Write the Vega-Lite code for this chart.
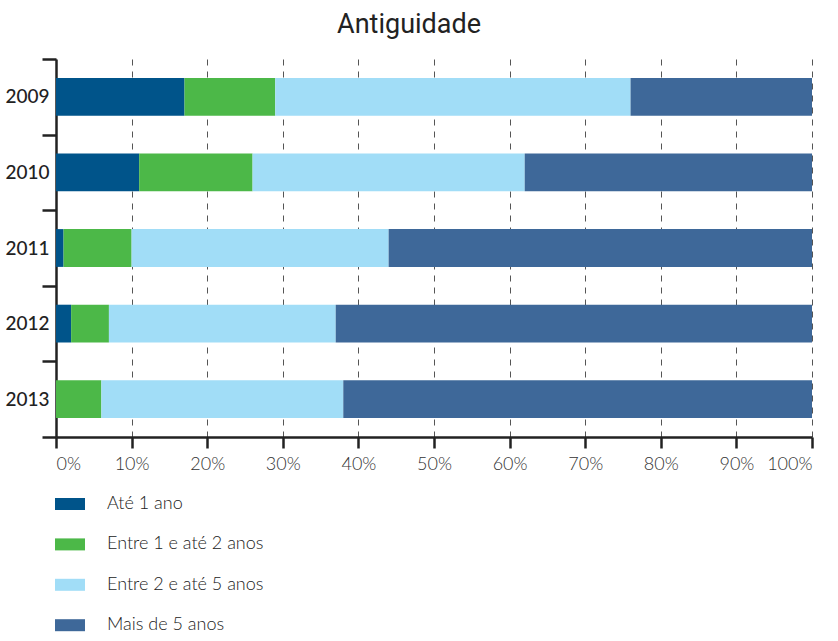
{
  "$schema": "https://vega.github.io/schema/vega-lite/v6.json",
  "autosize": "none",
  "width": 756,
  "height": 378,
  "padding": {"left": 56, "top": 59, "right": 26, "bottom": 204},
  "background": "white",
  "title": {
    "text": "Antiguidade",
    "anchor": "middle",
    "frame": "bounds",
    "font": "Roboto",
    "fontSize": 27,
    "fontWeight": "normal",
    "color": "#222222",
    "offset": 11
  },
  "data": {
    "values": [
      {"ano": "2009", "faixa": "Até 1 ano", "ordem": 1, "valor": 17},
      {"ano": "2009", "faixa": "Entre 1 e até 2 anos", "ordem": 2, "valor": 12},
      {"ano": "2009", "faixa": "Entre 2 e até 5 anos", "ordem": 3, "valor": 47},
      {"ano": "2009", "faixa": "Mais de 5 anos", "ordem": 4, "valor": 24},
      {"ano": "2010", "faixa": "Até 1 ano", "ordem": 1, "valor": 11},
      {"ano": "2010", "faixa": "Entre 1 e até 2 anos", "ordem": 2, "valor": 15},
      {"ano": "2010", "faixa": "Entre 2 e até 5 anos", "ordem": 3, "valor": 36},
      {"ano": "2010", "faixa": "Mais de 5 anos", "ordem": 4, "valor": 38},
      {"ano": "2011", "faixa": "Até 1 ano", "ordem": 1, "valor": 1},
      {"ano": "2011", "faixa": "Entre 1 e até 2 anos", "ordem": 2, "valor": 9},
      {"ano": "2011", "faixa": "Entre 2 e até 5 anos", "ordem": 3, "valor": 34},
      {"ano": "2011", "faixa": "Mais de 5 anos", "ordem": 4, "valor": 56},
      {"ano": "2012", "faixa": "Até 1 ano", "ordem": 1, "valor": 2},
      {"ano": "2012", "faixa": "Entre 1 e até 2 anos", "ordem": 2, "valor": 5},
      {"ano": "2012", "faixa": "Entre 2 e até 5 anos", "ordem": 3, "valor": 30},
      {"ano": "2012", "faixa": "Mais de 5 anos", "ordem": 4, "valor": 63},
      {"ano": "2013", "faixa": "Até 1 ano", "ordem": 1, "valor": 0},
      {"ano": "2013", "faixa": "Entre 1 e até 2 anos", "ordem": 2, "valor": 6},
      {"ano": "2013", "faixa": "Entre 2 e até 5 anos", "ordem": 3, "valor": 32},
      {"ano": "2013", "faixa": "Mais de 5 anos", "ordem": 4, "valor": 62}
    ]
  },
  "mark": {"type": "bar", "height": {"band": 0.5}},
  "encoding": {
    "y": {
      "field": "ano",
      "type": "nominal",
      "sort": ["2009", "2010", "2011", "2012", "2013"],
      "scale": {"paddingInner": 0, "paddingOuter": 0},
      "axis": {
        "title": null,
        "domainColor": "#222222",
        "domainWidth": 2.5,
        "tickBand": "extent",
        "tickColor": "#222222",
        "tickWidth": 2.5,
        "tickSize": 14,
        "labelPadding": -7,
        "labelFont": "Lato",
        "labelFontSize": 19,
        "labelFontWeight": 500,
        "labelColor": "#222222",
        "grid": false
      }
    },
    "x": {
      "field": "valor",
      "type": "quantitative",
      "stack": "normalize",
      "scale": {"domain": [0, 1]},
      "axis": {
        "title": null,
        "values": [0, 0.1, 0.2, 0.3, 0.4, 0.5, 0.6, 0.7, 0.8, 0.9, 1],
        "format": ".0%",
        "domainColor": "#222222",
        "domainWidth": 2.5,
        "tickColor": "#222222",
        "tickWidth": 2.5,
        "tickSize": 11,
        "labelPadding": 7,
        "labelFont": "Lato",
        "labelFontSize": 18,
        "labelFontWeight": 300,
        "labelColor": "#333333",
        "grid": true,
        "gridDash": [6, 6],
        "gridColor": "#555555",
        "gridWidth": 1
      }
    },
    "color": {
      "field": "faixa",
      "type": "nominal",
      "scale": {
        "domain": ["Até 1 ano", "Entre 1 e até 2 anos", "Entre 2 e até 5 anos", "Mais de 5 anos"],
        "range": ["#00548A", "#4CB848", "#A1DDF7", "#3E6899"]
      },
      "legend": {
        "title": null,
        "orient": "none",
        "legendX": 4,
        "legendY": 435,
        "direction": "vertical",
        "symbolType": "M-1.5,-0.6H1.5V0.6H-1.5Z",
        "symbolSize": 400,
        "symbolStrokeWidth": 0,
        "symbolOpacity": 1,
        "labelFont": "Lato",
        "labelFontSize": 18,
        "labelFontWeight": 300,
        "labelColor": "#222222",
        "labelOffset": 27,
        "rowPadding": 21.4
      }
    },
    "order": {"field": "ordem", "type": "quantitative"}
  },
  "config": {
    "view": {"stroke": null}
  }
}
